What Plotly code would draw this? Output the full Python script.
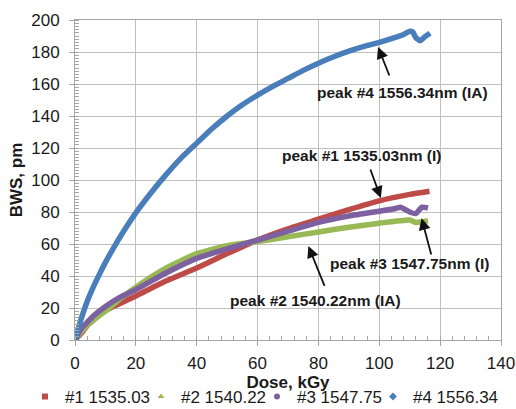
import plotly.graph_objects as go

# Series data (Dose kGy, BWS pm)
dose_1 = [0, 2, 4, 7, 10, 15, 20, 30, 40, 50, 60, 70, 80, 90, 100, 110, 116.5]
bws_1 = [0, 4, 9, 14, 18.5, 23, 27.5, 37, 45, 54, 62.5, 69.5, 75.5, 81.5, 87, 91, 93]

dose_2 = [0, 2, 5, 10, 15, 20, 30, 40, 50, 60, 70, 80, 90, 100, 110, 112, 116]
bws_2 = [0, 5, 11, 18, 26, 33, 45, 54, 59, 61.5, 64.5, 67.5, 70.5, 73, 75, 73.5, 74.5]

dose_3 = [0, 2, 4, 6, 10, 15, 20, 30, 40, 50, 60, 70, 80, 90, 100, 105, 107, 110, 112, 114, 116]
bws_3 = [0, 7, 11, 15, 21, 27, 31.5, 42, 51, 57, 62.5, 68, 73.5, 77.5, 80.5, 82, 83, 80, 79, 83, 82.5]

dose_4 = [0, 2, 4, 6, 8, 10, 12.5, 15, 17.5, 20, 25, 30, 35, 40, 45, 50, 55, 60, 65, 70, 75,
          80, 85, 90, 95, 100, 105, 108, 110, 111, 112, 113.4, 115, 116.7]
bws_4 = [0, 13, 24, 33, 41, 48.5, 57, 65, 72.5, 79.5, 92, 103.5, 114, 123, 132, 140, 147, 153,
         158.5, 163.5, 168.5, 173, 177, 180.5, 183.5, 186, 189, 191, 193, 192.5, 189, 187, 189.5, 191.7]

series_names = ["#1 1535.03", "#2 1540.22", "#3 1547.75", "#4 1556.34"]
series_colors = ["#BE4B48", "#98B954", "#7D60A0", "#4A7EBB"]
series_symbols = ["square", "triangle-up", "circle", "diamond"]

x_ticks = [0, 20, 40, 60, 80, 100, 120, 140]
y_ticks = [0, 20, 40, 60, 80, 100, 120, 140, 160, 180, 200]

# Annotations: label text, label position, arrow tail, arrow tip (data coords)
ann_texts = ["peak #4 1556.34nm (IA)", "peak #1 1535.03nm (I)",
             "peak #3 1547.75nm (I)", "peak #2 1540.22nm (IA)"]
ann_label_xy = [(107.5, 154.4), (94.3, 115.6), (109.8, 48.1), (78.9, 25.0)]
ann_tail_xy = [(103.5, 164.4), (96.9, 107.5), (117.2, 52.5), (82.2, 32.9)]
ann_tip_xy = [(99.6, 183.1), (100.5, 88.75), (113.9, 76.1), (76.7, 58.75)]

FONT = "Liberation Sans, Arial, sans-serif"

fig = go.Figure()
all_x = [dose_1, dose_2, dose_3, dose_4]
all_y = [bws_1, bws_2, bws_3, bws_4]
for xs, ys, name, col in zip(all_x, all_y, series_names, series_colors):
    fig.add_trace(go.Scatter(x=xs, y=ys, mode="lines", name=name,
                             line=dict(color=col, width=5.5, shape="spline", smoothing=0.5),
                             showlegend=False, hoverinfo="x+y"))

legend_ids = ["legend", "legend2", "legend3", "legend4"]
for name, col, sym, lid in zip(series_names, series_colors, series_symbols, legend_ids):
    fig.add_trace(go.Scatter(x=[None], y=[None], mode="markers", name=name, legend=lid,
                             marker=dict(color=col, size=6, symbol=sym)))

annotations = []
for txt, (lx, ly) in zip(ann_texts, ann_label_xy):
    annotations.append(dict(x=lx, y=ly, xref="x", yref="y", text="<b>%s</b>" % txt,
                            showarrow=False, font=dict(family=FONT, size=15.5, color="#1a1a1a")))
for (tx, ty), (hx, hy) in zip(ann_tail_xy, ann_tip_xy):
    annotations.append(dict(x=hx, y=hy, ax=tx, ay=ty, xref="x", yref="y", axref="x", ayref="y",
                            text="", showarrow=True, arrowhead=2, arrowsize=1.3,
                            arrowwidth=1.8, arrowcolor="#111111", standoff=0))

axis_common = dict(showgrid=True, gridcolor="#BFBFBF", gridwidth=1,
                   showline=True, linecolor="#A6A6A6", linewidth=1, mirror=True,
                   ticks="outside", ticklen=5, tickcolor="#A6A6A6",
                   tickfont=dict(family=FONT, size=17, color="#1a1a1a"),
                   zeroline=False, automargin=False)

legend_x = [-0.1174, 0.1549, 0.4272, 0.6995]
legend_layout = {}
for lid, lx in zip(legend_ids, legend_x):
    legend_layout[lid] = dict(orientation="h", x=lx, xanchor="left", y=-0.178, yanchor="middle",
                              font=dict(family=FONT, size=17, color="#1a1a1a"),
                              itemwidth=30, bgcolor="rgba(0,0,0,0)")

fig.update_layout(
    width=516, height=409,
    margin=dict(l=75, r=15, t=20, b=69, autoexpand=False),
    paper_bgcolor="white", plot_bgcolor="white",
    font=dict(family=FONT, color="#1a1a1a"),
    xaxis=dict(range=[0, 140], tickvals=x_ticks, ticklabelstandoff=3,
               title=dict(text="<b>Dose, kGy</b>", font=dict(family=FONT, size=17), standoff=0),
               minor=dict(ticks="inside", dtick=4, ticklen=4, tickcolor="#A6A6A6", showgrid=False),
               **axis_common),
    yaxis=dict(range=[0, 200], tickvals=y_ticks, ticklabelstandoff=6,
               title=dict(text="<b>BWS, pm</b>", font=dict(family=FONT, size=17), standoff=4),
               minor=dict(ticks="inside", dtick=2, ticklen=4, tickcolor="#A6A6A6", showgrid=False),
               **axis_common),
    annotations=annotations,
    showlegend=True,
    **legend_layout,
)

fig.write_html("out.html", config={"displayModeBar": False},
               post_script="document.body.style.margin='0px';document.body.style.padding='0px';")
